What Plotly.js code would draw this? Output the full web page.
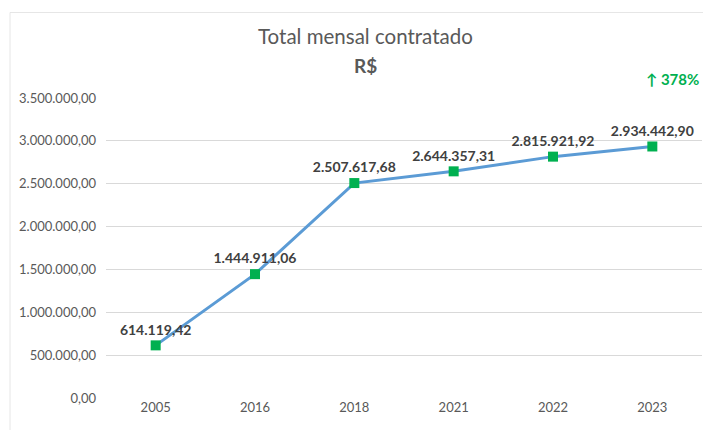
<!DOCTYPE html>
<html><head><meta charset="utf-8">
<script src="https://cdn.plot.ly/plotly-3.0.1.min.js"></script>
<style>html,body{margin:0;padding:0;background:#fff}#c{width:703px;height:430px}</style>
</head><body><div id="c"></div>
<script>
var years = ['2005','2016','2018','2021','2022','2023'];
var totals = [614119.42, 1444911.06, 2507617.68, 2644357.31, 2815921.92, 2934442.90];
var yTicks = [0, 500000, 1000000, 1500000, 2000000, 2500000, 3000000, 3500000];
var growthLabel = '↑ 378%';

var FONT = 'Lato, "Open Sans", sans-serif';
var trace = {
  x: years, y: totals, type: 'scatter', mode: 'lines+markers+text',
  line: {color: '#5B9BD5', width: 3},
  marker: {symbol: 'square', size: 10, color: '#00B050'},
  texttemplate: '%{y:,.2f}', textposition: 'top center',
  textfont: {family: FONT, size: 14, color: '#404040', weight: 'bold'},
  cliponaxis: false, hoverinfo: 'skip'
};
var layout = {
  width: 703, height: 430,
  margin: {l: 106, r: 1, t: 98, b: 32},
  paper_bgcolor: '#fff', plot_bgcolor: '#fff',
  separators: ',.',
  showlegend: false,
  font: {family: FONT, color: '#595959', size: 13},
  xaxis: {type: 'category', range: [-0.5, 5.5], showgrid: false, zeroline: false,
          showline: false, ticks: '', tickfont: {size: 13, color: '#595959'}, fixedrange: true},
  yaxis: {range: [0, 3500000], tickvals: yTicks, tickformat: ',.2f', showgrid: true,
          gridcolor: '#D9D9D9', gridwidth: 1, zeroline: false, showline: false,
          ticklabelstandoff: 9, tickfont: {size: 13, color: '#595959'}, fixedrange: true},
  shapes: [
    {type: 'rect', xref: 'paper', yref: 'paper', x0: -0.161, x1: 1.05, y0: -0.2, y1: 1.285,
     line: {color: '#E6E6E6', width: 1}, fillcolor: 'rgba(0,0,0,0)'}
  ],
  annotations: [
    {text: 'Total mensal contratado', xref: 'paper', yref: 'paper', x: 0.435, y: 1.207,
     xanchor: 'center', yanchor: 'middle', showarrow: false,
     font: {family: FONT, size: 20.5, color: '#595959'}},
    {text: '<b>R$</b>', xref: 'paper', yref: 'paper', x: 0.435, y: 1.107,
     xanchor: 'center', yanchor: 'middle', showarrow: false,
     font: {family: FONT, size: 19, color: '#595959'}},
    {text: '<b>' + growthLabel + '</b>', xref: 'paper', yref: 'paper', x: 0.998, y: 1.062,
     xanchor: 'right', yanchor: 'middle', showarrow: false,
     font: {family: FONT, size: 15, color: '#00B050'}}
  ]
};
Plotly.newPlot('c', [trace], layout, {displayModeBar: false, staticPlot: true});
</script></body></html>
